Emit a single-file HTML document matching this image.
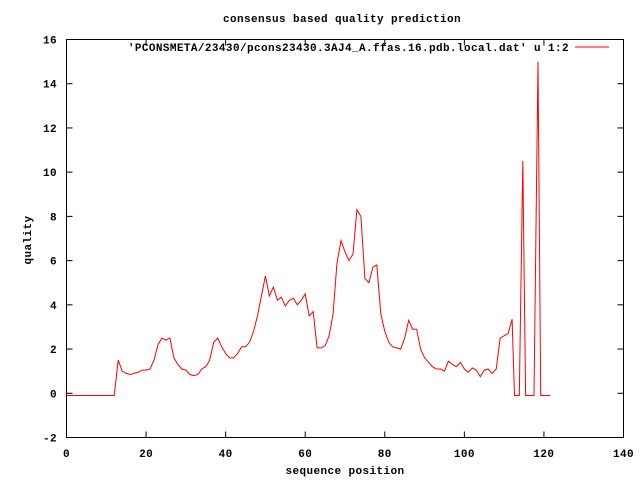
<!DOCTYPE html>
<html><head><meta charset="utf-8"><style>
body{margin:0;background:#fff}
svg text{font-family:"Liberation Mono",monospace;font-size:11px;font-weight:bold;fill:#000;letter-spacing:0.4px}
</style></head><body>
<svg id="chart" width="640" height="480" xmlns="http://www.w3.org/2000/svg">
<rect width="640" height="480" fill="#fff"/>
<text x="342" y="22" text-anchor="middle">consensus based quality prediction</text>
<text x="345" y="474" text-anchor="middle">sequence position</text>
<text x="0" y="0" transform="translate(31,240) rotate(-90)" text-anchor="middle">quality</text>
<g id="axes"></g>
<g>
<text x="569" y="51" text-anchor="end">'PCONSMETA/23430/pcons23430.3AJ4_A.ffas.16.pdb.local.dat' u 1:2</text>
<line x1="575" y1="47" x2="609" y2="47" stroke="#f00" stroke-width="1"/>
</g>
<rect x="66.5" y="39.5" width="557" height="398" fill="none" stroke="#000"/>
<path id="series" fill="none" stroke="#f00" stroke-width="1"/>
</svg>
<script>
const xTicks=[0,20,40,60,80,100,120,140];
const yTicks=[-2,0,2,4,6,8,10,12,14,16];
const xs=[0,1,2,3,4,5,6,7,8,9,10,11,12,13,14,15,16,17,18,19,20,21,22,23,24,25,26,27,28,29,30,31,32,33,34,35,36,37,38,39,40,41,42,43,44,45,46,47,48,49,50,51,52,53,54,55,56,57,58,59,60,61,62,63,64,65,66,67,68,69,70,71,72,73,74,75,76,77,78,79,80,81,82,83,84,85,86,87,88,89,90,91,92,93,94,95,96,97,98,99,100,101,102,103,104,105,106,107,108,109,110,111,112,112.6,113.8,114.7,115.4,117.5,118.5,119.2,121.6];
const ys=[-0.1,-0.1,-0.1,-0.1,-0.1,-0.1,-0.1,-0.1,-0.1,-0.1,-0.1,-0.1,-0.1,1.5,1.0,0.9,0.85,0.9,0.95,1.05,1.05,1.1,1.5,2.2,2.5,2.4,2.5,1.6,1.3,1.1,1.05,0.85,0.8,0.85,1.1,1.2,1.5,2.3,2.5,2.1,1.8,1.6,1.6,1.8,2.1,2.1,2.3,2.8,3.5,4.4,5.3,4.4,4.8,4.2,4.35,3.95,4.2,4.3,4.0,4.2,4.5,3.5,3.7,2.05,2.05,2.15,2.6,3.6,5.9,6.9,6.4,6.0,6.3,8.3,8.0,5.2,5.0,5.7,5.8,3.6,2.8,2.3,2.1,2.05,2.0,2.5,3.3,2.9,2.9,2.0,1.6,1.4,1.2,1.1,1.1,1.0,1.45,1.3,1.2,1.4,1.1,0.95,1.15,1.05,0.75,1.05,1.1,0.9,1.1,2.5,2.6,2.7,3.35,-0.1,-0.1,10.5,-0.1,-0.1,15,-0.1,-0.1];
const X0=66.5,X1=623.5,Y0=437.5,Y1=39.5;
const sx=v=>X0+(v-0)/(140-0)*(X1-X0);
const sy=v=>Y0-(v+2)/(16+2)*(Y0-Y1);
const NS='http://www.w3.org/2000/svg';
const ax=document.getElementById('axes');
function mk(tag,attrs){const e=document.createElementNS(NS,tag);for(const k in attrs)e.setAttribute(k,attrs[k]);ax.appendChild(e);return e;}
xTicks.forEach(t=>{
  const x=sx(t);
  const a=mk('line',{x1:x,y1:Y0,x2:x,y2:Y0-6,stroke:'#000'});
  
  
  const b=mk('line',{x1:x,y1:Y1,x2:x,y2:Y1+6,stroke:'#000'});
  
  
  const l=mk('text',{x:x,y:457,'text-anchor':'middle'});l.textContent=t;
  
  
});
yTicks.forEach(t=>{
  const y=sy(t);
  const a=mk('line',{x1:X0,y1:y,x2:X0+6,y2:y,stroke:'#000'});
  
  
  const b=mk('line',{x1:X1,y1:y,x2:X1-6,y2:y,stroke:'#000'});
  
  
  const l=mk('text',{x:57,y:y+4,'text-anchor':'end'});l.textContent=t;
  
  
});
document.getElementById('series').setAttribute('d',xs.map((x,i)=>(i?'L':'M')+sx(x).toFixed(1)+','+sy(ys[i]).toFixed(1)).join(''));
</script>
</body></html>
